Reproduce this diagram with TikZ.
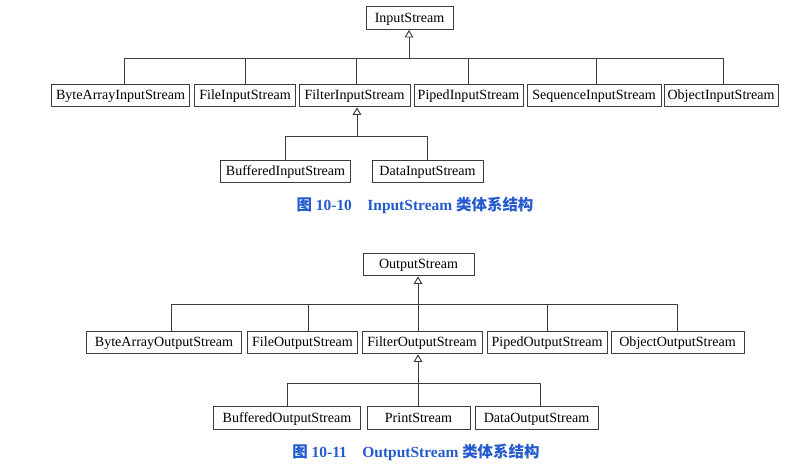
\documentclass[tikz,border=0pt]{standalone}
\usepackage{fontspec}
\setmainfont{Liberation Serif}
\newfontfamily\cjk{Noto Sans CJK SC}
\usetikzlibrary{arrows.meta, calc}

\definecolor{linegray}{RGB}{60,60,60}
\definecolor{capblue}{RGB}{35,90,205}

\tikzset{
  cls/.style={draw=linegray, line width=0.7pt, font=\fontsize{10}{12}\selectfont,
    minimum height=0.57cm, inner xsep=1pt, inner ysep=0pt,
    text height=7pt, text depth=1pt},
  link/.style={draw=linegray, line width=0.7pt},
  isa/.style={link, -{Triangle[open, length=1.9mm, width=2.2mm]}},
  caption/.style={text=capblue, font=\fontsize{11}{13}\selectfont\bfseries}
}

\begin{document}
\begin{tikzpicture}[line cap=round,line join=round,x=0.025cm,y=-0.025cm]
\useasboundingbox (0,0) rectangle (799,464);

% InputStream
\node[cls, minimum width=2.175cm] (in) at (409.5, 18) {InputStream};

\node[cls, minimum width=3.425cm] (bais) at (120.5, 95.5) {ByteArrayInputStream};
\node[cls, minimum width=2.5cm]   (fis)  at (245, 95.5)   {FileInputStream};
\node[cls, minimum width=2.775cm] (filis) at (354.5, 95.5) {FilterInputStream};
\node[cls, minimum width=2.725cm] (pis)  at (468.5, 95.5) {PipedInputStream};
\node[cls, minimum width=3.35cm]  (sis)  at (594, 95.5)   {SequenceInputStream};
\node[cls, minimum width=2.85cm]  (ois)  at (721, 95.5)   {ObjectInputStream};

\node[cls, minimum width=3.225cm] (bis) at (285.5, 171.5) {BufferedInputStream};
\node[cls, minimum width=2.775cm] (dis) at (427.5, 171.5) {DataInputStream};

\coordinate (inbus) at (409, 58);
\coordinate (filbus) at (357, 136);

\draw[isa] (inbus) -- (inbus |- in.south);
\draw[link] ([xshift=0.11cm]bais.north) |- (inbus);
\draw[link] (fis.north) |- (inbus);
\draw[link] ([xshift=0.04cm]filis.north) |- (inbus);
\draw[link] (pis.north) |- (inbus);
\draw[link] ([xshift=0.05cm]sis.north) |- (inbus);
\draw[link] ([xshift=0.05cm]ois.north) |- (inbus);

\draw[isa] (filbus) -- (filbus |- filis.south);
\draw[link] (bis.north) |- (filbus);
\draw[link] (dis.north) |- (filbus);

\node[caption] (cap1) at (415, 205)
  {{\cjk 图} 10-10\quad InputStream {\cjk 类体系结构}};

% OutputStream
\node[cls, minimum width=2.775cm] (out) at (418.5, 264.5) {OutputStream};

\node[cls, minimum width=3.85cm]  (baos) at (164, 342.5)   {ByteArrayOutputStream};
\node[cls, minimum width=2.725cm] (fos)  at (302.5, 342.5) {FileOutputStream};
\node[cls, minimum width=3.0cm]   (filos) at (422, 342.5)  {FilterOutputStream};
\node[cls, minimum width=3.0cm]   (pos)  at (547, 342.5)   {PipedOutputStream};
\node[cls, minimum width=3.325cm] (oos)  at (677.5, 342.5) {ObjectOutputStream};

\node[cls, minimum width=3.65cm]  (bos) at (287, 418)   {BufferedOutputStream};
\node[cls, minimum width=2.575cm] (ps)  at (418.5, 418) {PrintStream};
\node[cls, minimum width=3.075cm] (dos) at (536.5, 418) {DataOutputStream};

\coordinate (outbus) at (418, 304);
\coordinate (folbus) at (418, 383);

\draw[isa] (outbus) -- (outbus |- out.south);
\draw[link] ([xshift=0.175cm]baos.north) |- (outbus);
\draw[link] ([xshift=0.14cm]fos.north) |- (outbus);
\draw[link] ([xshift=-0.1cm]filos.north) |- (outbus);
\draw[link] (pos.north) |- (outbus);
\draw[link] (oos.north) |- (outbus);

\draw[isa] (folbus) -- (folbus |- filos.south);
\draw[link] (bos.north) |- (folbus);
\draw[link] (ps.north) |- (folbus);
\draw[link] ([xshift=0.09cm]dos.north) |- (folbus);

\node[caption] (cap2) at (416, 452)
  {{\cjk 图} 10-11\quad OutputStream {\cjk 类体系结构}};
\end{tikzpicture}
\end{document}
